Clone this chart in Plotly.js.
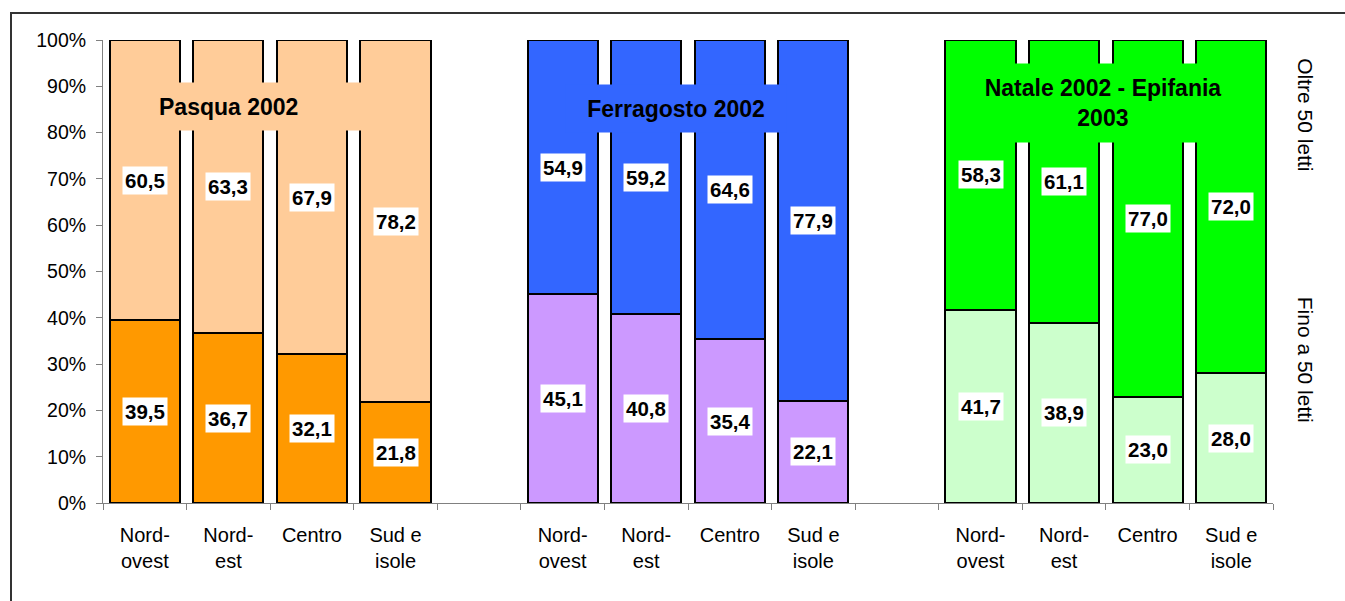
<!DOCTYPE html>
<html>
<head>
<meta charset="utf-8">
<script src="https://cdn.plot.ly/plotly-3.0.1.min.js"></script>
<style>
  html, body { margin:0; padding:0; background:#fff; }
  #wrap { position:relative; width:1345px; height:601px; overflow:hidden; }
  #frame { position:absolute; left:10px; top:12px; width:1400px; height:700px;
           border-left:2px solid #333; border-top:2px solid #333; }
  #chart { position:absolute; left:0; top:0; width:1345px; height:601px; }
</style>
</head>
<body>
<div id="wrap">
  <div id="frame"></div>
  <div id="chart"></div>
</div>
<script>
// ---- data ----
const regions = ["Nord-<br>ovest", "Nord-<br>est", "Centro", "Sud e<br>isole"];
const periods = ["Pasqua 2002", "Ferragosto 2002", "Natale 2002 - Epifania<br>2003"];

const finoPasqua      = [39.5, 36.7, 32.1, 21.8];
const oltrePasqua     = [60.5, 63.3, 67.9, 78.2];
const finoFerragosto  = [45.1, 40.8, 35.4, 22.1];
const oltreFerragosto = [54.9, 59.2, 64.6, 77.9];
const finoNatale      = [41.7, 38.9, 23.0, 28.0];
const oltreNatale     = [58.3, 61.1, 77.0, 72.0];

const seriesNames = ["Fino a 50 letti", "Oltre 50 letti"];
const yTicks = [0, 10, 20, 30, 40, 50, 60, 70, 80, 90, 100];

// ---- styles ----
const finoColors  = ["#FF9900", "#CC99FF", "#CCFFCC"];
const oltreColors = ["#FFCC99", "#3366FF", "#00FF00"];
const FONT = "Liberation Sans, Arial, sans-serif";

const finoAll  = [finoPasqua, finoFerragosto, finoNatale];
const oltreAll = [oltrePasqua, oltreFerragosto, oltreNatale];

const slot = regions.length + 1; // one empty slot between groups
const xs = [], yF = [], yO = [], cF = [], cO = [], tickVals = [], tickText = [];
periods.forEach((p, g) => {
  regions.forEach((r, i) => {
    const x = g * slot + i;
    xs.push(x);
    yF.push(finoAll[g][i]);
    yO.push(oltreAll[g][i]);
    cF.push(finoColors[g]);
    cO.push(oltreColors[g]);
    tickVals.push(x);
    tickText.push(r);
  });
});
const nSlots = periods.length * slot - 1;
const boundaries = [];
for (let b = -0.5; b <= nSlots - 0.5 + 1e-9; b += 1) boundaries.push(b);

const fmt = v => v.toFixed(1).replace(".", ",");

const barLine = { color: "#000", width: 2 };
const traces = [
  { type: "bar", name: seriesNames[0], x: xs, y: yF, width: 0.84,
    marker: { color: cF, line: barLine }, hoverinfo: "skip", showlegend: false },
  { type: "bar", name: seriesNames[1], x: xs, y: yO, width: 0.84,
    marker: { color: cO, line: barLine }, hoverinfo: "skip", showlegend: false }
];

const annotations = [];
const valFont = { family: FONT, size: 20.5, color: "#000", weight: "bold" };
xs.forEach((x, k) => {
  annotations.push({ x: x, y: yF[k] / 2, xref: "x", yref: "y", text: fmt(yF[k]),
    showarrow: false, bgcolor: "#fff", borderpad: 2, font: valFont });
  annotations.push({ x: x, y: yF[k] + yO[k] / 2, xref: "x", yref: "y", text: fmt(yO[k]),
    showarrow: false, bgcolor: "#fff", borderpad: 2, font: valFont });
});

// group title boxes
const titleX = [1.409, 6.356, 11.466];
const titleY = [85.7, 85.2, 86.4];
const titleW = [207, 220, 250];
const titleH = [47, 47, 78];
const titleAlign = ["left", "center", "center"];
periods.forEach((p, g) => {
  annotations.push({ x: titleX[g], y: titleY[g], xref: "x", yref: "y", text: p,
    showarrow: false, bgcolor: oltreColors[g], width: titleW[g], height: titleH[g],
    align: titleAlign[g], valign: "middle", borderpad: 0,
    font: { family: FONT, size: 23, color: "#000", weight: "bold" } });
});

// right-side series labels
annotations.push({ x: 1.028, y: 83.8, xref: "paper", yref: "y", xanchor: "center", yanchor: "middle",
  text: seriesNames[1], showarrow: false, textangle: 90,
  font: { family: FONT, size: 21, color: "#000" } });
annotations.push({ x: 1.028, y: 31.0, xref: "paper", yref: "y", xanchor: "center", yanchor: "middle",
  text: seriesNames[0], showarrow: false, textangle: 90,
  font: { family: FONT, size: 21, color: "#000" } });

const layout = {
  width: 1345, height: 601,
  margin: { l: 103, r: 72, t: 40, b: 98, pad: 0 },
  paper_bgcolor: "rgba(0,0,0,0)", plot_bgcolor: "rgba(0,0,0,0)",
  barmode: "stack",
  showlegend: false,
  font: { family: FONT, color: "#000" },
  xaxis: {
    range: [-0.5, nSlots - 0.5], tickmode: "array", tickvals: tickVals, ticktext: tickText,
    ticks: "", showline: true, linecolor: "#808080", linewidth: 1,
    showgrid: false, zeroline: false, ticklabelstandoff: 14,
    tickfont: { family: FONT, size: 20, color: "#000" },
    minor: { tickmode: "array", tickvals: boundaries, ticks: "outside", ticklen: 6,
             tickcolor: "#808080", tickwidth: 1, showgrid: false },
    fixedrange: true
  },
  yaxis: {
    range: [0, 100], tickmode: "array", tickvals: yTicks, ticktext: yTicks.map(v => v + "%"),
    ticks: "outside", ticklen: 6, tickcolor: "#808080", tickwidth: 1,
    showline: true, linecolor: "#808080", linewidth: 1,
    showgrid: false, zeroline: false, ticklabelstandoff: 6,
    tickfont: { family: FONT, size: 19.5, color: "#000" },
    fixedrange: true
  },
  annotations: annotations
};

Plotly.newPlot("chart", traces, layout, { staticPlot: true, displayModeBar: false });
</script>
</body>
</html>
